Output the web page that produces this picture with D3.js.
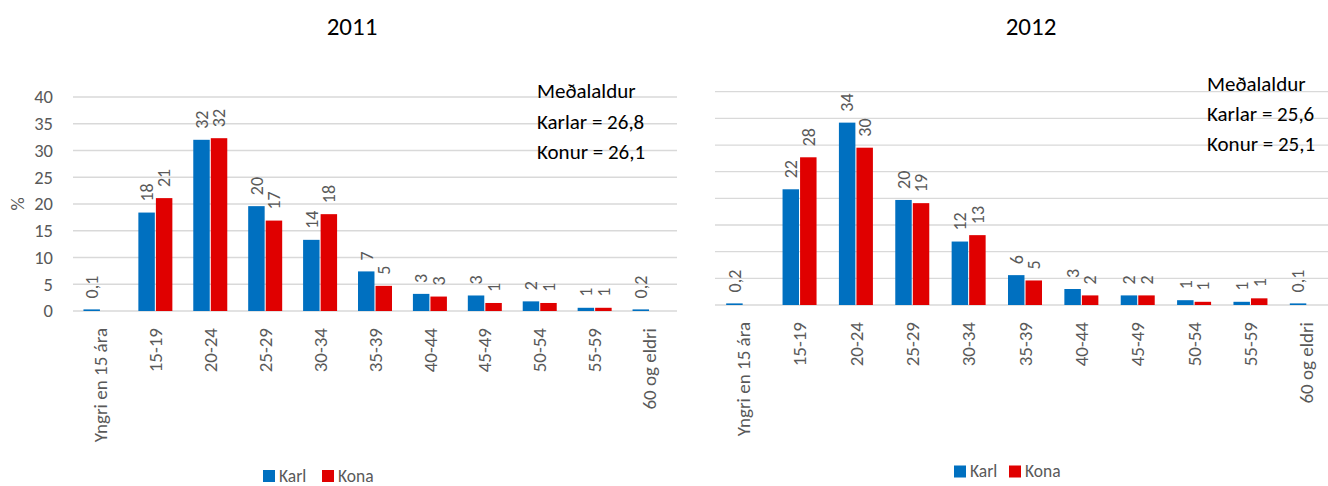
<!DOCTYPE html>
<html>
<head>
<meta charset="utf-8">
<script src="https://cdn.jsdelivr.net/npm/d3@7"></script>
<style>
  body { margin: 0; background: #fff; }
  svg { display: block; font-family: Calibri, Carlito, Lato, sans-serif; }
  .grid line { stroke: #d9d9d9; stroke-width: 1.3; }
  .tick-lbl, .cat-lbl, .val-lbl, .leg-lbl { fill: #595959; }
</style>
</head>
<body>
<svg id="chart" width="1328" height="486"></svg>
<script>
// age groups
const CATEGORIES = ["Yngri en 15 ára", "15-19", "20-24", "25-29", "30-34", "35-39",
                    "40-44", "45-49", "50-54", "55-59", "60 og eldri"];
const SERIES = ["Karl", "Kona"];
const COLORS = { Karl: "#0070c0", Kona: "#e00000" };
const Y_TICKS = [0, 5, 10, 15, 20, 25, 30, 35, 40];

// 2011 — bar heights, labels as printed
const KARL_2011 = [0.3, 18.4, 32.0, 19.6, 13.3, 7.4, 3.2, 2.9, 1.8, 0.6, 0.3];
const KONA_2011 = [0, 21.1, 32.3, 16.9, 18.1, 4.7, 2.7, 1.5, 1.5, 0.6, 0];
const KARL_2011_LBL = ["0,1", "18", "32", "20", "14", "7", "3", "3", "2", "1", "0,2"];
const KONA_2011_LBL = ["", "21", "32", "17", "18", "5", "3", "1", "1", "1", ""];
const NOTE_2011 = ["Meðalaldur", "Karlar = 26,8", "Konur = 26,1"];

// 2012
const KARL_2012 = [0.3, 21.7, 34.2, 19.7, 11.9, 5.6, 3.0, 1.8, 0.9, 0.6, 0.3];
const KONA_2012 = [0, 27.7, 29.5, 19.1, 13.1, 4.6, 1.8, 1.8, 0.6, 1.25, 0];
const KARL_2012_LBL = ["0,2", "22", "34", "20", "12", "6", "3", "2", "1", "1", "0,1"];
const KONA_2012_LBL = ["", "28", "30", "19", "13", "5", "2", "2", "1", "1", ""];
const NOTE_2012 = ["Meðalaldur", "Karlar = 25,6", "Konur = 25,1"];

const svg = d3.select("#chart");

function drawPanel(p) {
  const g = svg.append("g");
  const x0 = d3.scaleBand().domain(CATEGORIES).range([p.left, p.right]);
  const y = d3.scaleLinear().domain([0, 40]).range([p.base, p.top]);
  const mid = x0.bandwidth() / 2;
  const x1 = d3.scaleBand().domain(SERIES).range([mid - 17, mid + 17]).paddingInner(0.06);

  // gridlines
  g.append("g").attr("class", "grid").selectAll("line")
    .data(Y_TICKS).join("line")
    .attr("x1", p.left).attr("x2", p.right)
    .attr("y1", d => y(d)).attr("y2", d => y(d));

  if (p.yAxis) {
    g.append("g").selectAll("text")
      .data(Y_TICKS).join("text")
      .attr("class", "tick-lbl")
      .attr("x", p.left - 20).attr("y", d => y(d))
      .attr("dy", "0.35em").attr("text-anchor", "end")
      .style("font-size", "18.5px")
      .text(d => d);
    g.append("text")
      .attr("class", "tick-lbl")
      .attr("transform", `translate(24,${(p.top + p.base) / 2}) rotate(-90)`)
      .attr("text-anchor", "middle")
      .style("font-size", "18.5px")
      .text("%");
  }

  const rows = CATEGORIES.map((c, i) => ({
    cat: c,
    vals: [
      { s: "Karl", v: p.karl[i], lbl: p.karlLbl[i] },
      { s: "Kona", v: p.kona[i], lbl: p.konaLbl[i] }
    ]
  }));

  const grp = g.append("g").selectAll("g")
    .data(rows).join("g")
    .attr("transform", d => `translate(${x0(d.cat)},0)`);

  grp.selectAll("rect")
    .data(d => d.vals.filter(v => v.v > 0)).join("rect")
    .attr("x", d => x1(d.s)).attr("width", x1.bandwidth())
    .attr("y", d => y(d.v)).attr("height", d => y(0) - y(d.v))
    .attr("fill", d => COLORS[d.s]);

  grp.selectAll("text")
    .data(d => d.vals.filter(v => v.lbl)).join("text")
    .attr("class", "val-lbl")
    .attr("transform", d => `translate(${x1(d.s) + x1.bandwidth() / 2},${y(d.v) - 11}) rotate(-90)`)
    .attr("dy", "0.35em")
    .style("font-size", "18px")
    .text(d => d.lbl);

  // category labels
  g.append("g").selectAll("text")
    .data(CATEGORIES).join("text")
    .attr("class", "cat-lbl")
    .attr("transform", d => `translate(${x0(d) + mid},${p.base + 17}) rotate(-90)`)
    .attr("text-anchor", "end").attr("dy", "0.35em")
    .style("font-size", "19px")
    .text(d => d);

  // title
  g.append("text")
    .attr("x", p.titleX).attr("y", 26).attr("dy", "0.35em")
    .attr("text-anchor", "middle")
    .style("font-size", "25px").attr("fill", "#000")
    .text(p.title);

  // mean-age note
  g.append("g").selectAll("text")
    .data(p.note).join("text")
    .attr("x", p.noteX).attr("y", (d, i) => p.noteY + i * 30.2)
    .attr("dy", "0.35em")
    .style("font-size", "21px").attr("fill", "#000")
    .text(d => d);

  // legend
  const leg = g.append("g").selectAll("g")
    .data(SERIES).join("g")
    .attr("transform", (d, i) => `translate(${p.legX[i]},${p.legY})`);
  leg.append("rect").attr("x", 0).attr("y", -6).attr("width", 12).attr("height", 12)
    .attr("fill", d => COLORS[d]);
  leg.append("text").attr("class", "leg-lbl")
    .attr("x", 16).attr("dy", "0.33em")
    .style("font-size", "17.5px")
    .text(d => d);
}

drawPanel({
  left: 73, right: 677, top: 97, base: 311, yAxis: true,
  karl: KARL_2011, kona: KONA_2011, karlLbl: KARL_2011_LBL, konaLbl: KONA_2011_LBL,
  title: "2011", titleX: 352, note: NOTE_2011, noteX: 537, noteY: 91,
  legX: [263, 322], legY: 476
});
drawPanel({
  left: 715, right: 1335, top: 91.7, base: 305, yAxis: false,
  karl: KARL_2012, kona: KONA_2012, karlLbl: KARL_2012_LBL, konaLbl: KONA_2012_LBL,
  title: "2012", titleX: 1031, note: NOTE_2012, noteX: 1207, noteY: 83.5,
  legX: [954, 1009], legY: 471.5
});
</script>
</body>
</html>
